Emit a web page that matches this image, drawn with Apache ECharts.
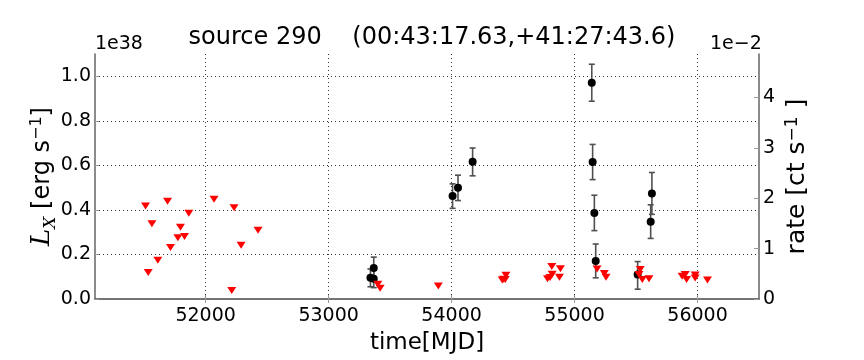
<!DOCTYPE html>
<html><head><meta charset="utf-8">
<script src="https://cdn.jsdelivr.net/npm/echarts@6/dist/echarts.min.js"></script>
<style>html,body{margin:0;padding:0;background:#fff}#c{width:864px;height:360px}</style>
</head><body><div id="c"></div>
<script>
// detections (left axis, units of 1e38 erg/s)
var detMjd = [53340, 53367, 53367, 54008, 54052, 54171, 55140, 55147, 55161, 55172, 55513, 55619, 55629];
var detLx  = [0.095, 0.091, 0.139, 0.463, 0.499, 0.616, 0.971, 0.615, 0.386, 0.171, 0.110, 0.347, 0.474];
var detLo  = [0.055, 0.051, 0.091, 0.407, 0.442, 0.553, 0.888, 0.536, 0.307, 0.095, 0.044, 0.272, 0.380];
var detHi  = [0.135, 0.131, 0.188, 0.517, 0.556, 0.678, 1.054, 0.694, 0.466, 0.247, 0.168, 0.423, 0.568];
// upper limits
var ulMjd = [51511, 51690, 51863, 51563, 51795, 51828, 51774, 51714, 51611, 51533, 52068, 52231, 52426, 52288, 52212,
             53400, 53419, 53892, 54412, 54422, 54442, 54436, 54780, 54801, 54815, 54818, 54877, 54885,
             55183, 55242, 55256, 55524, 55534, 55551, 55605, 55875, 55900, 55911, 55981, 55981, 56081];
var ulLx  = [0.417, 0.439, 0.385, 0.338, 0.322, 0.281, 0.275, 0.231, 0.174, 0.119, 0.448, 0.410, 0.309, 0.241, 0.038,
             0.066, 0.048, 0.058, 0.085, 0.089, 0.107, 0.088, 0.091, 0.097, 0.146, 0.111, 0.098, 0.136,
             0.135, 0.114, 0.098, 0.110, 0.132, 0.088, 0.091, 0.102, 0.110, 0.087, 0.108, 0.094, 0.085];
var xTicks = [52000, 53000, 54000, 55000, 56000];
var yTicks = [0, 0.2, 0.4, 0.6, 0.8, 1.0];
var rTicks = [0, 1, 2, 3, 4];
var titleText = 'source 290    (00:43:17.63,+41:27:43.6)';

var FONT = 'DejaVu Sans';
var frame = {show: true, lineStyle: {color: '#6e6e6e', width: 1.6}};
var grid = {left: 95, right: 105, top: 54, bottom: 54};
var dot = {color: '#333', width: 1, type: [1, 3]};

var chart = echarts.init(document.getElementById('c'), null, {renderer: 'canvas'});
chart.setOption({
  animation: false,
  backgroundColor: '#fff',
  title: {text: titleText, left: 427, textAlign: 'center', top: 21,
    textStyle: {fontFamily: FONT, fontSize: 24, fontWeight: 'normal', color: '#000'}},
  grid: grid,
  xAxis: [{
    type: 'value', min: 51100, max: 56500, position: 'bottom',
    axisLine: frame,
    axisTick: {show: true, inside: true, length: 4, customValues: xTicks, lineStyle: {color: '#999'}},
    axisLabel: {customValues: xTicks, fontFamily: FONT, fontSize: 19, color: '#000', margin: 8,
      formatter: function (v) { return String(v); }},
    splitLine: {show: true, lineStyle: dot},
    name: 'time[MJD]', nameLocation: 'middle', nameGap: 33, nameMoveOverlap: false,
    nameTextStyle: {fontFamily: FONT, fontSize: 23, color: '#000'}
  }, {
    type: 'value', min: 51100, max: 56500, position: 'top',
    axisLine: frame,
    axisTick: {show: true, inside: true, length: 4, customValues: xTicks, lineStyle: {color: '#999'}},
    axisLabel: {show: false}, splitLine: {show: false}
  }],
  yAxis: [{
    type: 'value', min: 0, max: 1.1, position: 'left',
    axisLine: frame,
    axisTick: {show: true, inside: true, length: 4, customValues: yTicks, lineStyle: {color: '#999'}},
    axisLabel: {customValues: yTicks, fontFamily: FONT, fontSize: 19, color: '#000', margin: 4,
      formatter: function (v) { return v.toFixed(1); }},
    splitLine: {show: true, lineStyle: dot},
    name: '{i|L}{sub|X}{n| [erg s}{sup|\u22121}{n|]}', nameLocation: 'middle', nameGap: 40, nameRotate: 90,
    nameMoveOverlap: false,
    nameTextStyle: {rich: {
      i: {fontFamily: 'DejaVu Serif', fontStyle: 'italic', fontSize: 26, color: '#000', verticalAlign: 'bottom'},
      sub: {fontFamily: 'DejaVu Serif', fontStyle: 'italic', fontSize: 17, color: '#000', verticalAlign: 'bottom', padding: [0,0,-4,0]},
      n: {fontFamily: FONT, fontSize: 24, color: '#000', verticalAlign: 'bottom'},
      sup: {fontFamily: FONT, fontSize: 16, color: '#000', verticalAlign: 'top', padding: [0,0,9,0]}
    }}
  }, {
    type: 'value', min: 0, max: 4.86, position: 'right',
    axisLine: frame,
    axisTick: {show: true, inside: true, length: 5, customValues: rTicks, lineStyle: {color: '#999'}},
    axisLabel: {customValues: rTicks, fontFamily: FONT, fontSize: 19, color: '#000', margin: 4,
      formatter: function (v) { return String(v); }},
    splitLine: {show: false},
    name: '{n|rate [ct s}{sup|\u22121}{n| ]}', nameLocation: 'middle', nameGap: 25, nameRotate: 90,
    nameMoveOverlap: false,
    nameTextStyle: {rich: {
      n: {fontFamily: FONT, fontSize: 25, color: '#000', verticalAlign: 'bottom'},
      sup: {fontFamily: FONT, fontSize: 17, color: '#000', verticalAlign: 'top', padding: [0,0,9,0]}
    }}
  }],
  graphic: [
    {type: 'text', left: 95, top: 35, style: {text: '1e38', font: '19px "DejaVu Sans"', fill: '#000'}},
    {type: 'text', left: 710, top: 35, style: {text: '1e\u22122', font: '19px "DejaVu Sans"', fill: '#000'}}
  ],
  series: [{
    type: 'custom', xAxisIndex: 0, yAxisIndex: 0, z: 2,
    data: detMjd.map(function (m, i) { return [m, detLo[i], detHi[i]]; }),
    renderItem: function (params, api) {
      var lo = api.coord([api.value(0), api.value(1)]);
      var hi = api.coord([api.value(0), api.value(2)]);
      var st = {stroke: '#505050', lineWidth: 1.6};
      return {type: 'group', children: [
        {type: 'line', shape: {x1: lo[0], y1: lo[1], x2: hi[0], y2: hi[1]}, style: st},
        {type: 'line', shape: {x1: lo[0]-3, y1: lo[1], x2: lo[0]+3, y2: lo[1]}, style: st},
        {type: 'line', shape: {x1: hi[0]-3, y1: hi[1], x2: hi[0]+3, y2: hi[1]}, style: st}
      ]};
    }
  }, {
    type: 'scatter', xAxisIndex: 0, yAxisIndex: 0, z: 3,
    symbol: 'circle', symbolSize: 8, itemStyle: {color: '#000', opacity: 1},
    data: detMjd.map(function (m, i) { return [m, detLx[i]]; })
  }, {
    type: 'scatter', xAxisIndex: 0, yAxisIndex: 0, z: 4,
    symbol: 'triangle', symbolRotate: 180, symbolSize: [9, 7], itemStyle: {color: '#ff0000', opacity: 1},
    data: ulMjd.map(function (m, i) { return [m, ulLx[i]]; })
  }]
});
</script></body></html>
